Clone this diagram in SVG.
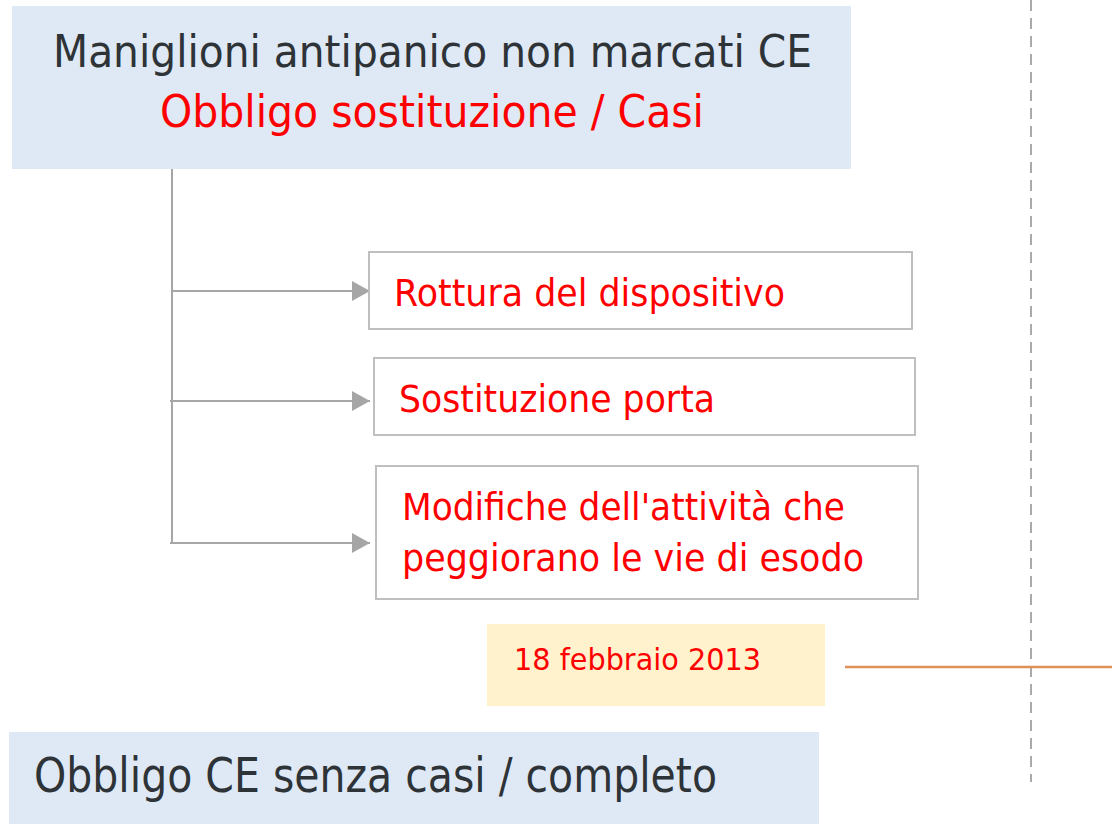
<svg xmlns="http://www.w3.org/2000/svg" width="1112" height="830" viewBox="0 0 1112 830">
<defs>
<style>
.hdr{fill:#dee9f5}
.box{fill:#ffffff;stroke:#bfbfbf;stroke-width:2}
.t{font-family:"DejaVu Sans","Liberation Sans",sans-serif}
.dark{fill:#2e3338}
.red{fill:#ff0000}
.conn{stroke:#a6a6a6;stroke-width:2;fill:none}
</style>
<marker id="arr" markerWidth="18" markerHeight="20" refX="18" refY="10" orient="auto" markerUnits="userSpaceOnUse" viewBox="0 0 18 20">
<path d="M0,0 L18,10 L0,20 Z" fill="#a6a6a6"/>
</marker>
</defs>
<rect width="1112" height="830" fill="#ffffff"/>
<line x1="1031" y1="0" x2="1031" y2="782" stroke="#aaaaaa" stroke-width="2" stroke-dasharray="11 7"/>
<line x1="845" y1="667" x2="1112" y2="667" stroke="#e0915a" stroke-width="2.5"/>
<g id="n-top">
<rect class="hdr" x="12" y="6" width="839" height="163"/>
<text class="t dark" x="53" y="67" font-size="45" textLength="759" lengthAdjust="spacingAndGlyphs">Maniglioni antipanico non marcati CE</text>
<text class="t red" x="160" y="127" font-size="45" textLength="544" lengthAdjust="spacingAndGlyphs">Obbligo sostituzione / Casi</text>
</g>
<g id="connectors">
<line class="conn" x1="172" y1="169" x2="172" y2="542"/>
<line class="conn" x1="171" y1="291" x2="370" y2="291" marker-end="url(#arr)"/>
<line class="conn" x1="170" y1="401" x2="370" y2="401" marker-end="url(#arr)"/>
<line class="conn" x1="170" y1="543" x2="370" y2="543" marker-end="url(#arr)"/>
</g>
<g id="n-rottura">
<rect class="box" x="369" y="252" width="543" height="77"/>
<text class="t red" x="394" y="306" font-size="37" textLength="391" lengthAdjust="spacingAndGlyphs">Rottura del dispositivo</text>
</g>
<g id="n-porta">
<rect class="box" x="374" y="358" width="541" height="77"/>
<text class="t red" x="399" y="412" font-size="37" textLength="316" lengthAdjust="spacingAndGlyphs">Sostituzione porta</text>
</g>
<g id="n-modifiche">
<rect class="box" x="376" y="466" width="542" height="133"/>
<text class="t red" x="402" y="520" font-size="37" textLength="443" lengthAdjust="spacingAndGlyphs">Modifiche dell'attività che</text>
<text class="t red" x="402" y="571" font-size="37" textLength="462" lengthAdjust="spacingAndGlyphs">peggiorano le vie di esodo</text>
</g>
<g id="n-date">
<rect x="487" y="624" width="338" height="82" fill="#fff2cc"/>
<text class="t red" x="514" y="670" font-size="31" textLength="247" lengthAdjust="spacingAndGlyphs">18 febbraio 2013</text>
</g>
<g id="n-bottom">
<rect class="hdr" x="9" y="732" width="810" height="92"/>
<text class="t dark" x="34" y="792" font-size="48" textLength="683" lengthAdjust="spacingAndGlyphs">Obbligo CE senza casi / completo</text>
</g>
</svg>
